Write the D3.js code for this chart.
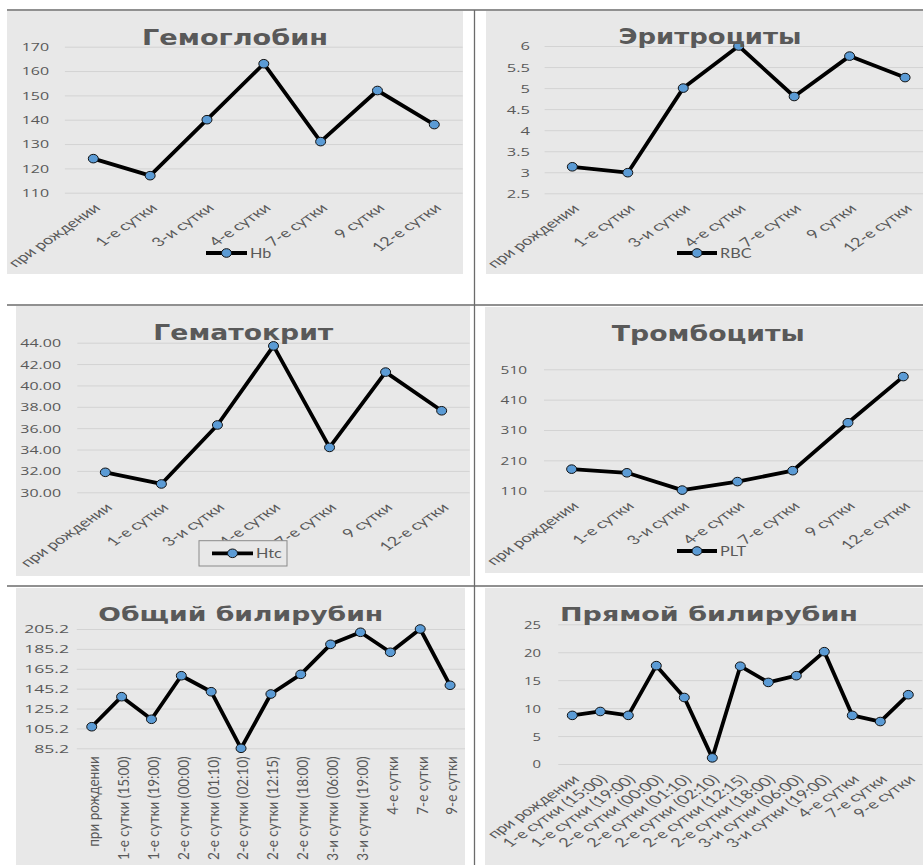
<!DOCTYPE html>
<html>
<head>
<meta charset="utf-8">
<script src="https://cdn.jsdelivr.net/npm/d3@7"></script>
<style>
  html, body { margin: 0; padding: 0; background: #ffffff; }
  svg { display: block; }
</style>
</head>
<body>
<svg id="chart" width="923" height="865"></svg>
<script>
// ---- categories ----
const daysShort = ["при рождении", "1-е сутки", "3-и сутки", "4-е сутки", "7-е сутки", "9 сутки", "12-е сутки"];
const daysBili = ["при рождении", "1-е сутки (15:00)", "1-е сутки (19:00)", "2-е сутки (00:00)",
  "2-е сутки (01:10)", "2-е сутки (02:10)", "2-е сутки (12:15)", "2-е сутки (18:00)",
  "3-и сутки (06:00)", "3-и сутки (19:00)", "4-е сутки", "7-е сутки", "9-е сутки"];

// ---- series values ----
const hbValues = [124, 117, 140, 163, 131, 152, 138];
const rbcValues = [3.13, 2.99, 5.0, 6.0, 4.8, 5.76, 5.25];
const htcValues = [31.87, 30.78, 36.3, 43.7, 34.2, 41.25, 37.63];
const pltValues = [181, 169, 112, 140, 176, 334, 486];
const totalBiliValues = [106.9, 137.1, 114.4, 158.2, 142.1, 85.2, 139.8, 159.6, 189.8, 201.9, 181.8, 205.2, 148.6];
const directBiliValues = [8.7, 9.4, 8.7, 17.6, 11.9, 1.1, 17.5, 14.6, 15.8, 20.1, 8.7, 7.6, 12.4];

// ---- axis ticks ----
const hbTicks = [110, 120, 130, 140, 150, 160, 170];
const rbcTicks = [2.5, 3, 3.5, 4, 4.5, 5, 5.5, 6];
const htcTicks = [30, 32, 34, 36, 38, 40, 42, 44];
const pltTicks = [110, 210, 310, 410, 510];
const totalBiliTicks = [85.2, 105.2, 125.2, 145.2, 165.2, 185.2, 205.2];
const directBiliTicks = [0, 5, 10, 15, 20, 25];

// ---- titles and series names ----
const chartTitles = ["Гемоглобин", "Эритроциты", "Гематокрит", "Тромбоциты", "Общий билирубин", "Прямой билирубин"];
const seriesNames = ["Hb", "RBC", "Htc", "PLT"];

const svg = d3.select("#chart");
const TEXT = "#595959";
const TICK_FONT = "'Open Sans', 'Liberation Sans', sans-serif";
const CAT_FONT = "Lato, 'Open Sans', sans-serif";
const TITLE_FONT = "'DejaVu Sans', Verdana, sans-serif";

const panels = [
  { title: chartTitles[0], cats: daysShort, vals: hbValues, ticks: hbTicks, fmt: d3.format("d"),
    bg: [7, 11, 463, 274], xr: [64.9, 462.7], yr: [192.7, 46.7], tickX: 49, tickSx: 1.45,
    titleX: 235, titleY: 45, titleW: 186, titleSize: 21, labels: "diag",
    legend: { name: seriesNames[0], x1: 206, x2: 247, y: 253 } },
  { title: chartTitles[1], cats: daysShort, vals: rbcValues, ticks: rbcTicks, fmt: d3.format("~g"),
    bg: [486, 11, 923, 274], xr: [544.6, 932.8], yr: [193.3, 46], tickX: 530, tickSx: 1.5,
    titleX: 710, titleY: 44.3, titleW: 183, titleSize: 21, labels: "diag",
    legend: { name: seriesNames[1], x1: 677, x2: 717, y: 253 } },
  { title: chartTitles[2], cats: daysShort, vals: htcValues, ticks: htcTicks, fmt: d3.format(".2f"),
    bg: [16, 306, 470, 576], xr: [77.3, 469.7], yr: [492.3, 342.7], tickX: 61, tickSx: 1.45,
    titleX: 243.3, titleY: 340, titleW: 180, titleSize: 21, labels: "diag",
    legend: { name: seriesNames[2], x1: 212, x2: 253, y: 553.3, box: [199, 540.7, 287, 566] } },
  { title: chartTitles[3], cats: daysShort, vals: pltValues, ticks: pltTicks, fmt: d3.format("d"),
    bg: [485, 307, 923, 573], xr: [544, 930.9], yr: [490.7, 369.3], tickX: 527, tickSx: 1.4,
    titleX: 708.3, titleY: 340.7, titleW: 193, titleSize: 21, labels: "diag",
    legend: { name: seriesNames[3], x1: 677, x2: 717, y: 551 } },
  { title: chartTitles[4], cats: daysBili, vals: totalBiliValues, ticks: totalBiliTicks, fmt: d3.format(".1f"),
    bg: [16, 588, 465, 865], xr: [76.8, 465], yr: [748.3, 629], tickX: 69, tickSx: 1.6,
    titleX: 240.8, titleY: 620.5, titleW: 285, titleSize: 19.5, labels: "vert" },
  { title: chartTitles[5], cats: daysBili, vals: directBiliValues, ticks: directBiliTicks, fmt: d3.format("d"),
    bg: [485, 588, 923, 865], xr: [558.3, 922.3], yr: [764, 624.3], tickX: 541, tickSx: 1.35,
    titleX: 709, titleY: 620.7, titleW: 298, titleSize: 19.5, labels: "diag" }
];

function drawMarker(g, cx, cy) {
  g.append("ellipse")
    .attr("cx", cx).attr("cy", cy)
    .attr("rx", 5).attr("ry", 4.3)
    .attr("fill", "#5b9bd5")
    .attr("stroke", "#111")
    .attr("stroke-width", 1);
}

function drawPanel(p) {
  const g = svg.append("g");
  const [bx0, by0, bx1, by1] = p.bg;

  // panel background
  g.append("rect")
    .attr("x", bx0).attr("y", by0)
    .attr("width", bx1 - bx0).attr("height", by1 - by0)
    .attr("fill", "#e8e8e8");

  const x = d3.scalePoint().domain(p.cats).range(p.xr).padding(0.5);
  const y = d3.scaleLinear().domain([p.ticks[0], p.ticks[p.ticks.length - 1]]).range(p.yr);

  // horizontal gridlines
  const grid = g.append("g")
    .attr("transform", `translate(${p.xr[0]},0)`)
    .call(d3.axisLeft(y).tickValues(p.ticks).tickSize(-(p.xr[1] - p.xr[0])).tickFormat(""));
  grid.select(".domain").remove();
  grid.selectAll("line").attr("stroke", "#d3d3d3").attr("stroke-width", 1);

  // value axis labels
  const ya = g.append("g")
    .attr("transform", `translate(${p.tickX},0)`)
    .call(d3.axisLeft(y).tickValues(p.ticks).tickSize(0).tickPadding(0).tickFormat(p.fmt));
  ya.select(".domain").remove();
  ya.selectAll("text")
    .attr("x", 0).attr("dy", "0.36em")
    .attr("transform", `scale(${p.tickSx},1)`)
    .attr("fill", TEXT)
    .style("font-family", TICK_FONT)
    .style("font-size", "11px");

  // category axis labels
  const xa = g.append("g")
    .attr("transform", `translate(0,${p.yr[0]})`)
    .call(d3.axisBottom(x).tickSize(0).tickPadding(0));
  xa.select(".domain").remove();
  const xt = xa.selectAll("text")
    .attr("x", 0).attr("y", 0)
    .attr("dy", "0.36em")
    .attr("text-anchor", "end")
    .attr("fill", TEXT)
    .style("font-family", CAT_FONT);
  if (p.labels === "vert") {
    xt.style("font-size", "13.5px")
      .attr("transform", "translate(1,8) scale(1.2,1) rotate(-90)");
  } else {
    xt.style("font-size", "12.5px")
      .attr("transform", "translate(3,13) scale(1.45,1) rotate(-45)");
  }

  // series line
  const line = d3.line()
    .x((d, i) => x(p.cats[i]))
    .y(d => y(d));
  g.append("path")
    .datum(p.vals)
    .attr("d", line)
    .attr("fill", "none")
    .attr("stroke", "#000")
    .attr("stroke-width", 3.8)
    .attr("stroke-linejoin", "round")
    .attr("stroke-linecap", "round");

  // markers
  p.vals.forEach((v, i) => drawMarker(g, x(p.cats[i]), y(v)));

  // title
  g.append("text")
    .attr("x", p.titleX).attr("y", p.titleY)
    .attr("text-anchor", "middle")
    .attr("textLength", p.titleW)
    .attr("lengthAdjust", "spacingAndGlyphs")
    .attr("fill", TEXT)
    .style("font-family", TITLE_FONT)
    .style("font-weight", "bold")
    .style("font-size", p.titleSize + "px")
    .text(p.title);

  // legend
  if (p.legend) {
    const L = p.legend;
    if (L.box) {
      g.append("rect")
        .attr("x", L.box[0]).attr("y", L.box[1])
        .attr("width", L.box[2] - L.box[0]).attr("height", L.box[3] - L.box[1])
        .attr("fill", "#e8e8e8")
        .attr("stroke", "#8a8a8a").attr("stroke-width", 1);
    }
    g.append("line")
      .attr("x1", L.x1).attr("x2", L.x2)
      .attr("y1", L.y).attr("y2", L.y)
      .attr("stroke", "#000").attr("stroke-width", 3.8);
    drawMarker(g, (L.x1 + L.x2) / 2, L.y);
    g.append("text")
      .attr("transform", `translate(${L.x2 + 3},${L.y}) scale(1.3,1)`)
      .attr("dy", "0.36em")
      .attr("fill", TEXT)
      .style("font-family", CAT_FONT)
      .style("font-size", "12.5px")
      .text(L.name);
  }
}

panels.forEach(drawPanel);

// table rules separating the six charts
const rules = svg.append("g").attr("stroke", "#6b6b6b").attr("stroke-width", 1.3);
[10, 305, 586].forEach(yy => {
  rules.append("line").attr("x1", 7).attr("x2", 923).attr("y1", yy).attr("y2", yy);
});
rules.append("line").attr("x1", 474.5).attr("x2", 474.5).attr("y1", 10).attr("y2", 865);
</script>
</body>
</html>
